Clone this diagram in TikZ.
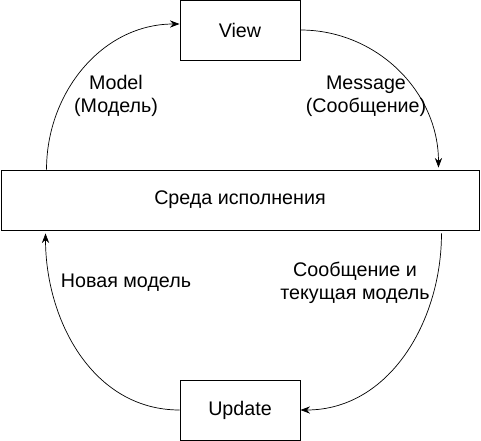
\documentclass[tikz,border=0pt]{standalone}
\usepackage{fontspec}
\setmainfont{Liberation Sans}
\usetikzlibrary{arrows.meta,calc}
\begin{document}
\begin{tikzpicture}[x=0.025cm, y=0.025cm,
  box/.style={draw, line width=0.6pt, minimum width=3cm, minimum height=1.5cm, font=\fontsize{14}{16.5}\selectfont},
  flow/.style={line width=0.5pt, -{Stealth[length=2.4mm, width=1.8mm]}},
  lbl/.style={align=center, font=\fontsize{14}{16.5}\selectfont}]
\useasboundingbox (0,0) rectangle (481,-441);
\node[box] (view) at (240,-30){View};
\node[box, minimum width=11.95cm] (runtime) at (240,-200){Среда исполнения};
\node[box] (update) at (240,-410){Update};
\coordinate (rtA) at ($(runtime.north west)+(46,0)$);
\coordinate (rtB) at ($(runtime.north east)+(-41,2)$);
\coordinate (rtC) at ($(runtime.south east)+(-38,-3)$);
\coordinate (rtD) at ($(runtime.south west)+(45,-3)$);
\draw[flow] (rtA) to[out=90, in=180] ([yshift=0.15cm]view.west);
\draw[flow] (view.east) to[out=0, in=90] (rtB);
\draw[flow] (rtC) to[out=-90, in=0] (update.east);
\draw[flow] (update.west) to[out=180, in=-90] (rtD);
\node[lbl] (mdl) at (116,-96){Model\\(Модель)};
\node[lbl] (msg) at (366,-96){Message\\(Сообщение)};
\node[lbl] (newmdl) at (126,-283){Новая модель};
\node[lbl] (msgmdl) at (355,-283){Сообщение и\\текущая модель};
\end{tikzpicture}
\end{document}
